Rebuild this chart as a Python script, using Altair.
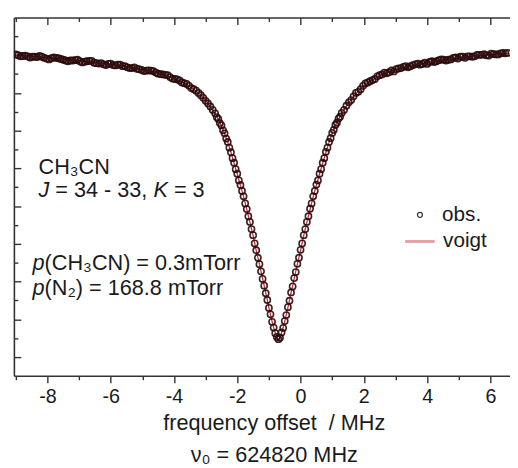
import altair as alt
import pandas as pd

# ---------------- data ----------------
# observed points: left wing, line core, right wing (frequency offset in MHz, signal a.u.)
wing_left_x = [-9.00, -8.85, -8.70, -8.55, -8.40, -8.25, -8.10, -7.95, -7.80, -7.65,
               -7.50, -7.35, -7.20, -7.05, -6.90, -6.75, -6.60, -6.45, -6.30, -6.15,
               -6.00, -5.85, -5.70, -5.55, -5.40, -5.25, -5.10, -4.95, -4.80, -4.65,
               -4.50, -4.35, -4.20, -4.05, -3.90, -3.75, -3.60, -3.45, -3.30, -3.15,
               -3.00, -2.85]
wing_left_y = [0.802, 0.797, 0.799, 0.794, 0.796, 0.798, 0.793, 0.789, 0.794, 0.792,
               0.788, 0.784, 0.786, 0.788, 0.781, 0.784, 0.785, 0.779, 0.779, 0.774,
               0.778, 0.773, 0.775, 0.771, 0.766, 0.768, 0.763, 0.758, 0.760, 0.758,
               0.751, 0.749, 0.747, 0.738, 0.736, 0.728, 0.724, 0.713, 0.706, 0.694,
               0.679, 0.664]
wing_left_mid_x = [-8.925, -8.775, -8.625, -8.475, -8.325, -8.175, -8.025, -7.875, -7.725, -7.575,
                   -7.425, -7.275, -7.125, -6.975, -6.825, -6.675, -6.525, -6.375, -6.225, -6.075,
                   -5.925, -5.775, -5.625, -5.475, -5.325, -5.175, -5.025, -4.875, -4.725, -4.575,
                   -4.425, -4.275, -4.125, -3.975, -3.825, -3.675, -3.525, -3.375, -3.225, -3.075,
                   -2.925, -2.775]
wing_left_mid_y = [0.800, 0.798, 0.797, 0.796, 0.795, 0.796, 0.791, 0.792, 0.793, 0.790,
                   0.786, 0.786, 0.787, 0.784, 0.783, 0.785, 0.780, 0.778, 0.776, 0.777,
                   0.774, 0.775, 0.771, 0.768, 0.766, 0.764, 0.761, 0.759, 0.759, 0.754,
                   0.750, 0.748, 0.742, 0.737, 0.733, 0.726, 0.719, 0.710, 0.700, 0.687,
                   0.672, 0.655]

core_x = [-2.70, -2.65, -2.60, -2.55, -2.50, -2.45, -2.40, -2.35, -2.30, -2.25,
          -2.20, -2.15, -2.10, -2.05, -2.00, -1.95, -1.90, -1.85, -1.80, -1.75,
          -1.70, -1.65, -1.60, -1.55, -1.50, -1.45, -1.40, -1.35, -1.30, -1.25,
          -1.20, -1.15, -1.10, -1.05, -1.00, -0.95, -0.90, -0.85, -0.80, -0.75,
          -0.70, -0.65, -0.60, -0.55, -0.50, -0.45, -0.40, -0.35, -0.30, -0.25,
          -0.20, -0.15, -0.10, -0.05, 0.00, 0.05, 0.10, 0.15, 0.20, 0.25,
          0.30, 0.35, 0.40, 0.45, 0.50, 0.55, 0.60, 0.65, 0.70, 0.75,
          0.80, 0.85, 0.90, 0.95, 1.00, 1.05, 1.10, 1.15, 1.20, 1.25,
          1.30]
core_y = [0.646, 0.636, 0.631, 0.620, 0.614, 0.601, 0.593, 0.579, 0.570, 0.555,
          0.543, 0.527, 0.515, 0.498, 0.486, 0.468, 0.456, 0.440, 0.426, 0.407,
          0.392, 0.373, 0.358, 0.339, 0.323, 0.301, 0.283, 0.263, 0.246, 0.227,
          0.207, 0.189, 0.169, 0.151, 0.130, 0.113, 0.093, 0.078, 0.063, 0.053,
          0.047, 0.051, 0.065, 0.077, 0.095, 0.111, 0.132, 0.149, 0.171, 0.187,
          0.209, 0.225, 0.247, 0.263, 0.284, 0.301, 0.323, 0.339, 0.358, 0.373,
          0.393, 0.407, 0.426, 0.440, 0.457, 0.468, 0.486, 0.498, 0.515, 0.527,
          0.544, 0.555, 0.570, 0.580, 0.594, 0.602, 0.615, 0.621, 0.632, 0.637,
          0.647]

wing_right_x = [1.45, 1.60, 1.75, 1.90, 2.05, 2.20, 2.35, 2.50, 2.65, 2.80,
                2.95, 3.10, 3.25, 3.40, 3.55, 3.70, 3.85, 4.00, 4.15, 4.30,
                4.45, 4.60, 4.75, 4.90, 5.05, 5.20, 5.35, 5.50, 5.65, 5.80,
                5.95, 6.10, 6.25, 6.40, 6.55]
wing_right_y = [0.666, 0.681, 0.700, 0.710, 0.725, 0.731, 0.737, 0.747, 0.754, 0.755,
                0.757, 0.765, 0.769, 0.768, 0.774, 0.778, 0.777, 0.777, 0.784, 0.784,
                0.789, 0.786, 0.789, 0.794, 0.796, 0.793, 0.797, 0.797, 0.801, 0.803,
                0.799, 0.803, 0.802, 0.806, 0.806]
wing_right_mid_x = [1.375, 1.525, 1.675, 1.825, 1.975, 2.125, 2.275, 2.425, 2.575, 2.725,
                    2.875, 3.025, 3.175, 3.325, 3.475, 3.625, 3.775, 3.925, 4.075, 4.225,
                    4.375, 4.525, 4.675, 4.825, 4.975, 5.125, 5.275, 5.425, 5.575, 5.725,
                    5.875, 6.025, 6.175, 6.325, 6.475]
wing_right_mid_y = [0.655, 0.675, 0.691, 0.703, 0.719, 0.728, 0.734, 0.744, 0.749, 0.752,
                    0.760, 0.763, 0.766, 0.771, 0.771, 0.776, 0.775, 0.780, 0.782, 0.782,
                    0.787, 0.788, 0.788, 0.793, 0.791, 0.796, 0.797, 0.796, 0.801, 0.801,
                    0.800, 0.804, 0.802, 0.805, 0.805]

# Voigt fit curve
voigt_x = [-9.0, -8.5, -8.0, -7.5, -7.0, -6.5, -6.0, -5.5, -5.0, -4.6,
           -4.3, -4.0, -3.7, -3.5, -3.3, -3.1, -2.9, -2.8, -2.7, -2.6,
           -2.5, -2.4, -2.3, -2.2, -2.1, -2.0, -1.9, -1.8, -1.7, -1.6,
           -1.5, -1.4, -1.3, -1.2, -1.1, -1.0, -0.9, -0.8, -0.7, -0.6,
           -0.5, -0.4, -0.3, -0.2, -0.1, 0.0, 0.1, 0.2, 0.3, 0.4,
           0.5, 0.6, 0.7, 0.8, 0.9, 1.0, 1.1, 1.2, 1.3, 1.4,
           1.5, 1.7, 1.9, 2.2, 2.5, 2.9, 3.4, 4.0, 4.6, 5.2,
           5.8, 6.6]
voigt_y = [0.800, 0.797, 0.794, 0.790, 0.785, 0.781, 0.776, 0.770, 0.762, 0.755,
           0.748, 0.738, 0.727, 0.717, 0.705, 0.690, 0.669, 0.657, 0.645, 0.630,
           0.613, 0.592, 0.569, 0.542, 0.514, 0.485, 0.455, 0.425, 0.391, 0.357,
           0.322, 0.282, 0.246, 0.208, 0.170, 0.131, 0.094, 0.064, 0.047, 0.064,
           0.094, 0.131, 0.170, 0.208, 0.246, 0.282, 0.322, 0.357, 0.391, 0.425,
           0.455, 0.485, 0.514, 0.542, 0.569, 0.592, 0.613, 0.630, 0.645, 0.659,
           0.671, 0.693, 0.711, 0.731, 0.745, 0.759, 0.770, 0.780, 0.788, 0.795,
           0.800, 0.805]

x_major = [-8, -6, -4, -2, 0, 2, 4, 6]
x_minor = [-9, -7, -5, -3, -1, 1, 3, 5]
y_major = [0.0, 0.1, 0.2, 0.3, 0.4, 0.5, 0.6, 0.7, 0.8]
y_minor = [0.05, 0.15, 0.25, 0.35, 0.45, 0.55, 0.65, 0.75, 0.85]

series_names = ["obs.", "voigt"]
x_title = ["frequency offset\u00a0 / MHz", "\u03bd\u2080 = 624820 MHz"]
label_molecule = "CH\u2083CN"
label_transition = ["J", "= 34 - 33,", "K", "= 3"]
label_p1 = ["p", "(CH\u2083CN) = 0.3mTorr"]
label_p2 = ["p", "(N\u2082) = 168.8 mTorr"]

# ---------------- styling ----------------
FONT = "Liberation Sans"
TXT = "#1a1a1a"
AX = "#333333"
W, H = 504, 364

xs = alt.Scale(domain=[-9.06, 6.62], nice=False, zero=False)
ys = alt.Scale(domain=[-0.05, 0.9], nice=False, zero=False)

obs_df = pd.DataFrame({
    "freq": wing_left_x + wing_left_mid_x + core_x + wing_right_x + wing_right_mid_x,
    "signal": wing_left_y + wing_left_mid_y + core_y + wing_right_y + wing_right_mid_y,
    "series": series_names[0],
})
voigt_df = pd.DataFrame({"freq": voigt_x, "signal": voigt_y, "series": series_names[1]})


def ax(orient, values, size, domain=False, offset=0, **kw):
    base = dict(orient=orient, values=values, tickSize=size, tickWidth=1.4,
                tickColor=AX, domain=domain, domainColor=AX, domainWidth=1.6,
                grid=False, offset=offset)
    base.update(kw)
    if "labels" not in kw:
        base["labels"] = False
    if "title" not in kw:
        base["title"] = None
    return alt.Axis(**base)


bottom_major = ax("bottom", x_major, 7, domain=True, labels=True,
                  labelFont=FONT, labelFontSize=20, labelColor=TXT, labelPadding=4,
                  labelExpr="'' + datum.value", labelFlush=False, labelOverlap=False,
                  title=x_title, titleFont=FONT, titleFontSize=22,
                  titleFontWeight="normal", titleColor=TXT, titleX=264, titleY=55,
                  titleBaseline="alphabetic", titleLineHeight=32, titleAlign="center")
bottom_minor = ax("bottom", x_minor, 4)
top_major = ax("bottom", x_major, 7, domain=True, offset=-H)
top_minor = ax("bottom", x_minor, 4, offset=-H)
left_major = ax("right", y_major, 7, domain=True, offset=-W)
left_minor = ax("right", y_minor, 4, offset=-W)

voigt_layer = alt.Chart(voigt_df).mark_line(
    strokeWidth=1.3, interpolate="monotone", clip=True
).encode(
    x=alt.X("freq:Q", scale=xs, axis=bottom_minor),
    y=alt.Y("signal:Q", scale=ys, axis=left_minor),
    color=alt.Color("series:N", scale=alt.Scale(domain=[series_names[1]], range=["#c8303c"]),
                    legend=alt.Legend(title=None, orient="none", legendX=396, legendY=211,
                                      padding=0, symbolType="stroke", symbolSize=900,
                                      symbolStrokeWidth=3, symbolOpacity=0.45,
                                      labelFont=FONT, labelFontSize=21, labelColor=TXT,
                                      labelOffset=7)),
)

obs_layer = alt.Chart(obs_df).mark_point(
    shape="circle", filled=False, size=40, strokeWidth=1.6, color="#2a0a0a",
    opacity=0.9, clip=True
).encode(
    x=alt.X("freq:Q", scale=xs, axis=bottom_major),
    y=alt.Y("signal:Q", scale=ys, axis=left_major),
    shape=alt.Shape("series:N", scale=alt.Scale(domain=[series_names[0]], range=["circle"]),
                    legend=alt.Legend(title=None, orient="none", legendX=402, legendY=190,
                                      padding=0, symbolSize=25, symbolStrokeWidth=1.3,
                                      symbolStrokeColor="#222222", symbolFillColor="transparent",
                                      labelFont=FONT, labelFontSize=21, labelColor=TXT,
                                      labelOffset=12)),
)


def axis_only(xaxis):
    return alt.Chart(voigt_df).mark_line(opacity=0).encode(
        x=alt.X("freq:Q", scale=xs, axis=xaxis),
        y=alt.Y("signal:Q", scale=ys, axis=None),
    )


def txt(s, x, y, italic=False):
    return alt.Chart(pd.DataFrame({"label": [s]})).mark_text(
        align="left", baseline="alphabetic", font=FONT, fontSize=22,
        fontStyle="italic" if italic else "normal", color=TXT
    ).encode(x=alt.value(x), y=alt.value(y), text="label:N")


texts = [
    txt(label_molecule, 25, 159),
    txt(label_transition[0], 25, 182, True),
    txt(label_transition[1], 42.1, 182),
    txt(label_transition[2], 141.8, 182, True),
    txt(label_transition[3], 162.6, 182),
    txt(label_p1[0], 19, 257, True),
    txt(label_p1[1], 31.2, 257),
    txt(label_p2[0], 19, 282, True),
    txt(label_p2[1], 31.2, 282),
]

chart = alt.layer(
    voigt_layer, obs_layer, axis_only(top_major), axis_only(top_minor), *texts
).resolve_scale(
    x="shared", y="shared"
).resolve_axis(
    x="independent", y="independent"
).properties(
    width=W, height=H,
    padding={"left": 6, "top": 6, "right": 0, "bottom": 90},
    autosize=alt.AutoSizeParams(type="none"),
    background="white",
).configure_view(strokeWidth=0)

chart.save("out.html", embed_options={"renderer": "svg", "actions": False})
